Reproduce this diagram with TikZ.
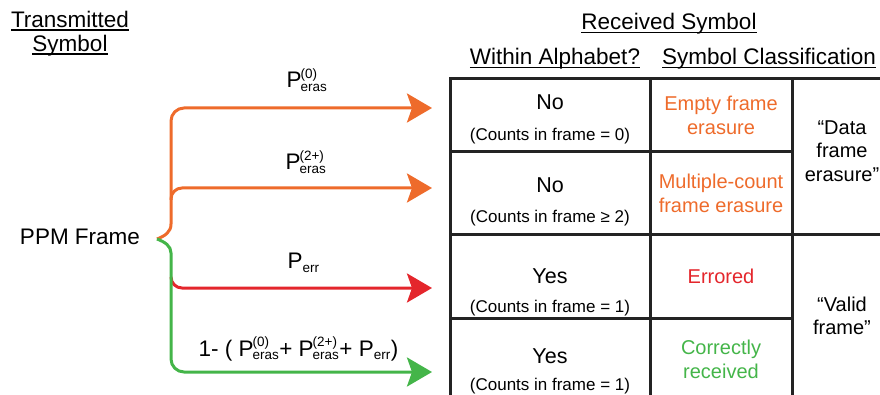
\documentclass[tikz,border=0pt]{standalone}
\usepackage{amsmath}
\usepackage{fontspec}
\setmainfont{Liberation Sans}
\usetikzlibrary{arrows.meta,positioning}

\definecolor{erasorange}{RGB}{238,107,43}
\definecolor{errred}{RGB}{228,38,44}
\definecolor{okgreen}{RGB}{68,181,73}
\definecolor{gridline}{RGB}{35,35,35}

\newcommand{\scripttxt}{\fontsize{13.5}{15}\selectfont}
\newcommand{\prob}[2]{P\kern-1pt$^{\text{\scripttxt #1}}_{\text{\scripttxt #2}}$}
\newcommand{\ulword}[1]{\setbox0=\hbox{#1}\rlap{\rule[-3pt]{\wd0}{1.4pt}}\box0}

\begin{document}
\begin{tikzpicture}[x=1pt, y=-1pt,
    head/.style={font=\fontsize{22.5}{24}\selectfont, align=center},
    cell/.style={draw=gridline, line width=3pt, inner sep=0pt, align=center, font=\fontsize{20}{23.5}\selectfont},
    classtext/.style={align=center, font=\fontsize{20}{23.5}\selectfont},
    answer/.style={font=\fontsize{21.5}{26}\selectfont, anchor=base},
    note/.style={font=\fontsize{17}{20}\selectfont, anchor=base},
    plabel/.style={font=\fontsize{22.5}{27}\selectfont, anchor=base west},
    branch/.style={line width=3pt, -{Stealth[length=25pt, width=29pt, inset=5pt]}}
]

% Frame
\clip (0,0) rectangle (880,395);

% Headers
\node[head] (txhead) at (70,34) {\ulword{Transmitted}\\\ulword{Symbol}};
\node[head, anchor=base] (rxhead) at (669,30) {\ulword{Received Symbol}};
\node[head, anchor=base] (alphhead) at (555,65) {\ulword{Within Alphabet?}};
\node[head, anchor=base] (classhead) at (769,65) {\ulword{Symbol Classification}};

% Source
\node[head, anchor=base] (ppm) at (80,245) {PPM Frame};

% Table: within alphabet
\node[cell, minimum width=200, minimum height=73] (alph1) at (550,115.5) {};
\node[cell, minimum width=200, minimum height=83] (alph2) at (550,193.5) {};
\node[cell, minimum width=200, minimum height=83] (alph3) at (550,276.5) {};
\node[cell, minimum width=200, minimum height=83] (alph4) at (550,359.5) {};

\node[answer] (no1) at (550,110) {No};
\node[note] (cnt1) at (550,141) {(Counts in frame = 0)};
\node[answer] (no2) at (550,193) {No};
\node[note] (cnt2) at (550,223) {(Counts in frame ≥ 2)};
\node[answer] (yes1) at (550,283) {Yes};
\node[note] (cnt3) at (550,312) {(Counts in frame = 1)};
\node[answer] (yes2) at (550,363) {Yes};
\node[note] (cnt4) at (550,390) {(Counts in frame = 1)};

% Table: classification
\node[cell, minimum width=142, minimum height=73, text=erasorange] (cls1) at (721,115.5) {Empty frame\\erasure};
\node[cell, minimum width=142, minimum height=83, text=erasorange] (cls2) at (721,193.5) {Multiple-count\\frame erasure};
\node[cell, minimum width=142, minimum height=83, text=errred] (cls3) at (721,276.5) {Errored};
\node[cell, minimum width=142, minimum height=83, text=okgreen] (cls4) at (721,359.5) {Correctly\\received};
\node[cell, minimum width=100, minimum height=156] (grp1) at (842,157) {};
\node[cell, minimum width=100, minimum height=166] (grp2) at (842,318) {};

\node[classtext] (dataera) at (842,151) {“Data\\frame\\erasure”};
\node[classtext] (validfr) at (842,316) {“Valid\\frame”};

% Brace and branches
\coordinate (tip) at (157,239);
\coordinate (up) at (171,224);
\coordinate (down) at (171,253);
\coordinate (fork2) at (171,200);
\coordinate (fork3) at (171,277);
\coordinate (end1) at (432,108);
\coordinate (end2) at (432,188);
\coordinate (end3) at (432,288);
\coordinate (end4) at (432,372);

\draw[branch, erasorange] (tip) .. controls (165,236) and (171,232) .. (up) [rounded corners=13pt] |- (end1);
\draw[branch, erasorange, rounded corners=11pt] (fork2) |- (end2);
\draw[branch, errred, rounded corners=11pt] (fork3) |- (end3);
\draw[branch, okgreen] (tip) .. controls (165,242) and (171,246) .. (down) [rounded corners=13pt] |- (end4);

% Branch labels
\node[plabel] (peras0) at (283,88) {\prob{(0)}{eras}};
\node[plabel] (peras2) at (282,170) {\prob{(2+)}{eras}};
\node[plabel] (perr) at (284,269) {P$_{\text{\scripttxt err}}$};
\node[plabel] (pok) at (195,356) {1- ( \prob{(0)}{eras}+ \prob{(2+)}{eras}+ P$_{\text{\scripttxt err}}$)};

\end{tikzpicture}
\end{document}
